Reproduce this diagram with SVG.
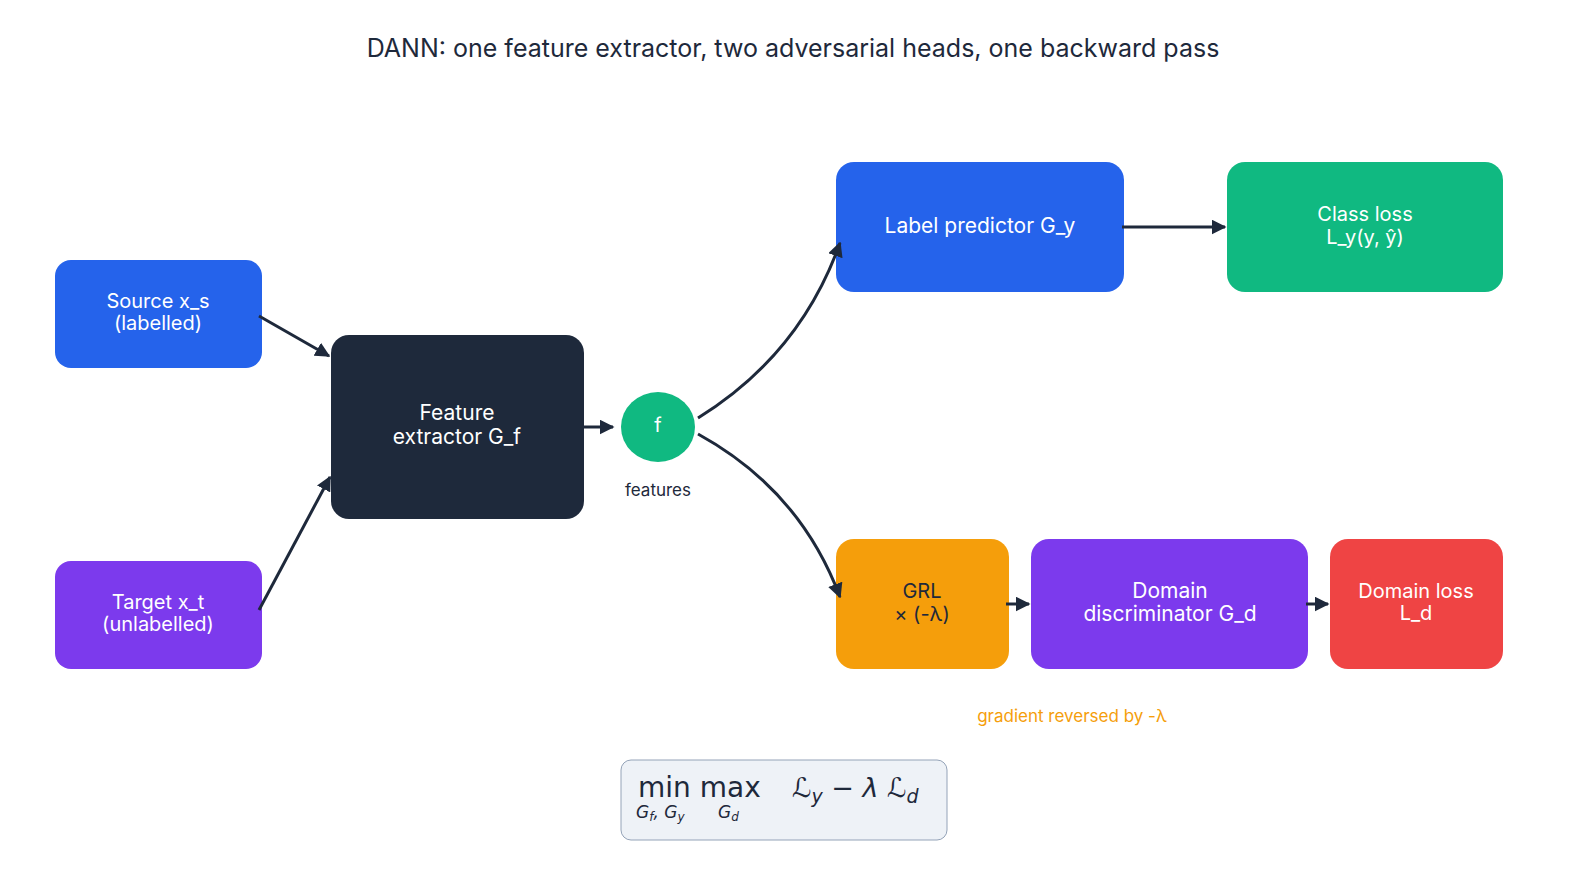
<svg xmlns="http://www.w3.org/2000/svg" width="1586" height="882" viewBox="0 0 1586 882">
<style>
text{font-family:Inter,"Liberation Sans",sans-serif;text-anchor:middle}
.w{fill:#fff;font-size:20px}
.c{fill:none;stroke:#1e293b;stroke-width:3}
.m{font-family:"DejaVu Sans",sans-serif;fill:#1e293b;text-anchor:start}
</style>
<defs><marker id="a" viewBox="0 0 10 10" refX="9" refY="5" markerWidth="5" markerHeight="5" orient="auto"><path d="M0,0L10,5L0,10z" fill="#1e293b"/></marker></defs>
<rect width="1586" height="882" fill="#fff"/>
<text x="793" y="57" style="font-size:25px;fill:#1e293b">DANN: one feature extractor, two adversarial heads, one backward pass</text>
<g id="source"><rect x="55" y="260" width="207" height="108" rx="16" fill="#2563eb"/><text class="w" x="158" y="308">Source x_s</text><text class="w" x="158" y="330">(labelled)</text></g>
<g id="target"><rect x="55" y="561" width="207" height="108" rx="16" fill="#7c3aed"/><text class="w" x="158" y="609">Target x_t</text><text class="w" x="158" y="631">(unlabelled)</text></g>
<g id="fe"><rect x="331" y="335" width="253" height="184" rx="18" fill="#1e293b"/><text class="w" x="457" y="420" style="font-size:21px">Feature</text><text class="w" x="457" y="444" style="font-size:21px">extractor  G_f</text></g>
<g id="f"><ellipse cx="658" cy="427" rx="37" ry="35" fill="#10b981"/><text class="w" x="658" y="432">f</text><text x="658" y="496" style="font-size:17px;fill:#1e293b">features</text></g>
<g id="lp"><rect x="836" y="162" width="288" height="130" rx="18" fill="#2563eb"/><text class="w" x="980" y="233" style="font-size:21px">Label predictor  G_y</text></g>
<g id="cl"><rect x="1227" y="162" width="276" height="130" rx="18" fill="#10b981"/><text class="w" x="1365" y="221">Class loss</text><text class="w" x="1365" y="244">L_y(y, ŷ)</text></g>
<g id="grl"><rect x="836" y="539" width="173" height="130" rx="18" fill="#f59e0b"/><text x="922" y="598" style="font-size:20px;fill:#1e293b">GRL</text><text x="922" y="621" style="font-size:20px;fill:#1e293b">× (-λ)</text></g>
<g id="dd"><rect x="1031" y="539" width="277" height="130" rx="18" fill="#7c3aed"/><text class="w" x="1170" y="598" style="font-size:21px">Domain</text><text class="w" x="1170" y="621" style="font-size:21px">discriminator G_d</text></g>
<g id="dl"><rect x="1330" y="539" width="173" height="130" rx="18" fill="#ef4444"/><text class="w" x="1416" y="598">Domain loss</text><text class="w" x="1416" y="620">L_d</text></g>
<text x="1072" y="722" style="font-size:17px;fill:#f59e0b">gradient reversed by  -λ</text>
<g id="formula"><rect x="621" y="760" width="326" height="80" rx="10" fill="#eef2f7" stroke="#94a3b8"/>
<text class="m" x="638" y="797" style="font-size:28px">min max</text>
<text class="m" x="636" y="818" style="font-size:17px;font-style:italic">G<tspan font-size="12" dy="3">f</tspan><tspan dy="-3">, G</tspan><tspan font-size="12" dy="3">y</tspan></text>
<text class="m" x="718" y="818" style="font-size:17px;font-style:italic">G<tspan font-size="12" dy="3">d</tspan></text>
<text class="m" x="792" y="797" style="font-size:27px;font-style:italic">ℒ<tspan font-size="19" dy="6">y</tspan><tspan dy="-6" font-style="normal"> − </tspan>λ ℒ<tspan font-size="19" dy="6">d</tspan></text></g>
<g id="connectors">
<path class="c" d="M259,316L329,356" marker-end="url(#a)"/>
<path class="c" d="M259,610L330,477" marker-end="url(#a)"/>
<path class="c" d="M584,427L613,427" marker-end="url(#a)"/>
<path class="c" d="M698,418Q800,355 840,243" marker-end="url(#a)"/>
<path class="c" d="M698,434Q800,490 840,597" marker-end="url(#a)"/>
<path class="c" d="M1122,227L1225,227" marker-end="url(#a)"/>
<path class="c" d="M1006,604L1029,604" marker-end="url(#a)"/>
<path class="c" d="M1306,604L1328,604" marker-end="url(#a)"/>
</g>
</svg>
